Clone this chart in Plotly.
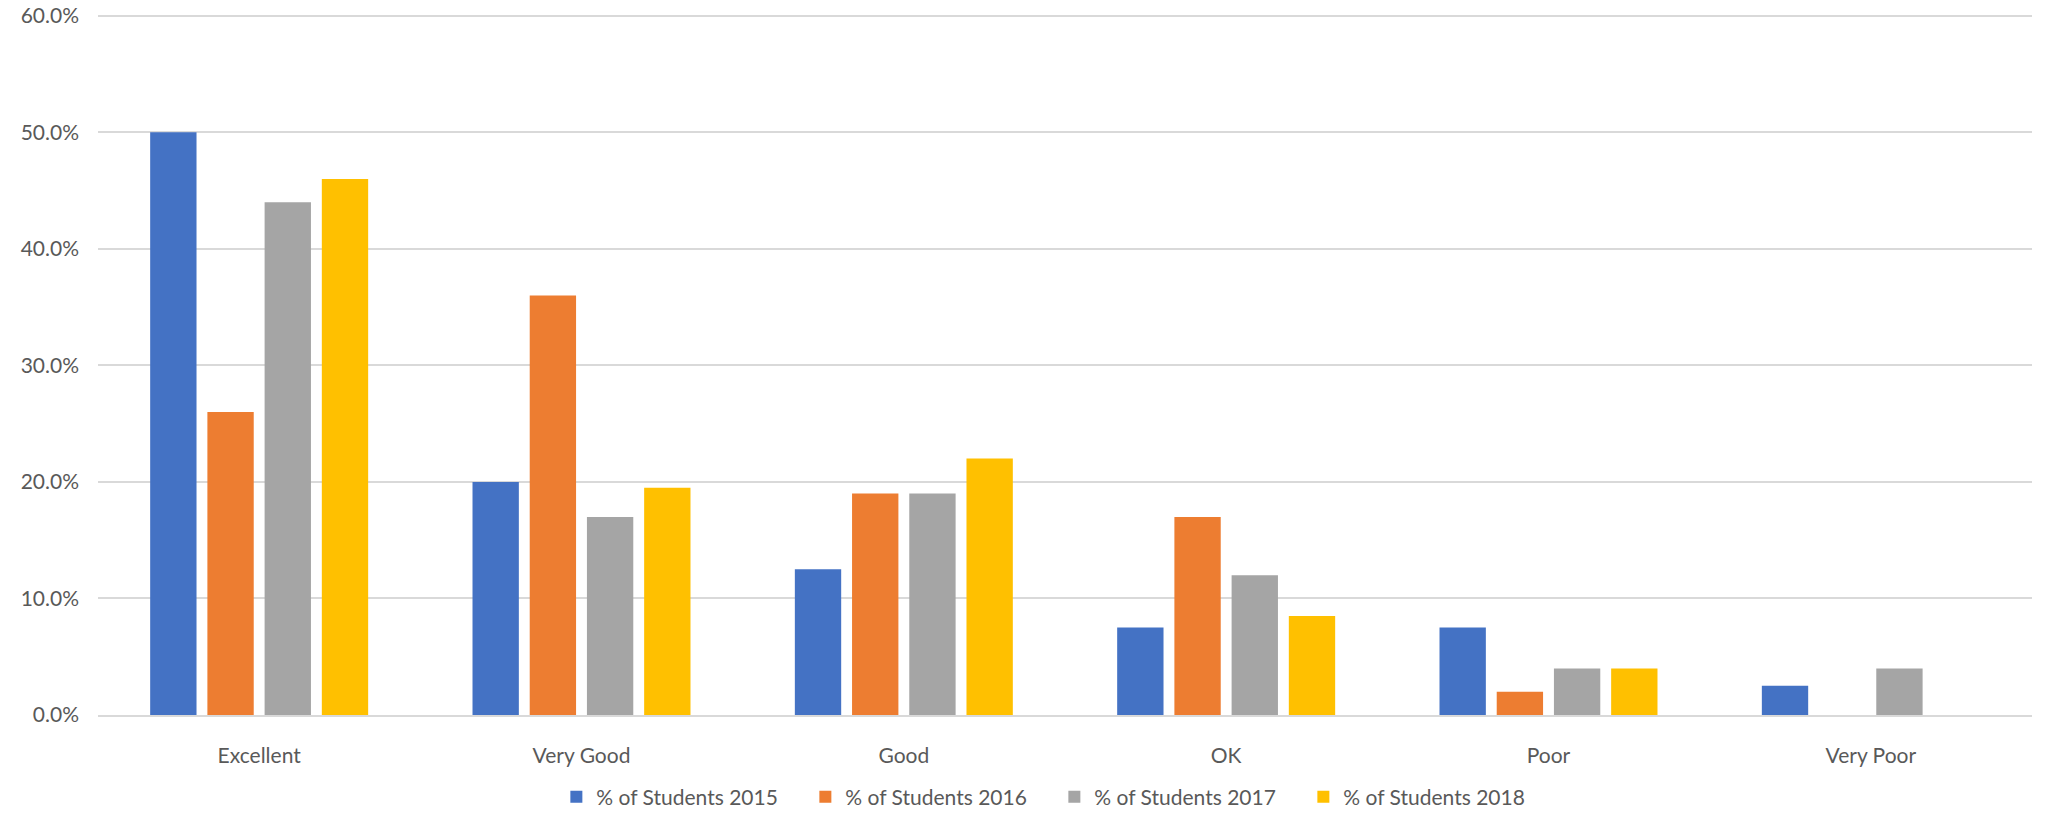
import plotly.graph_objects as go

categories = ["Excellent", "Very Good", "Good", "OK", "Poor", "Very Poor"]
series_names = ["% of Students 2015", "% of Students 2016", "% of Students 2017", "% of Students 2018"]
s2015 = [50.0, 20.0, 12.5, 7.5, 7.5, 2.5]
s2016 = [26.0, 36.0, 19.0, 17.0, 2.0, 0.0]
s2017 = [44.0, 17.0, 19.0, 12.0, 4.0, 4.0]
s2018 = [46.0, 19.5, 22.0, 8.5, 4.0, 0.0]
colors = ["#4472C4", "#ED7D31", "#A5A5A5", "#FFC000"]

fig = go.Figure()
for name, vals, col in zip(series_names, [s2015, s2016, s2017, s2018], colors):
    fig.add_trace(go.Bar(x=categories, y=[v / 100 for v in vals], name=name,
                         marker=dict(color=col, line=dict(width=0))))

font_family = "Lato, 'Open Sans', sans-serif"
fs = 21
fig.update_layout(
    width=2054, height=814,
    margin=dict(l=98, r=22, t=14, b=99, autoexpand=False),
    paper_bgcolor="white", plot_bgcolor="white",
    barmode="group", bargap=0.29, bargroupgap=0.19,
    font=dict(family=font_family, size=fs, color="#595959"),
    legend=dict(orientation="h", x=0.4945, xanchor="center", y=-0.117, yanchor="middle",
                font=dict(size=fs, color="#595959"), entrywidth=204, entrywidthmode="pixels",
                itemwidth=30),
    xaxis=dict(showgrid=False, showline=True, linecolor="#D9D9D9", linewidth=1.5,
               ticks="", ticklabelstandoff=21, tickfont=dict(size=fs, color="#595959")),
    yaxis=dict(range=[0, 0.6015], dtick=0.1, tickformat=".1%", showgrid=True,
               gridcolor="#D9D9D9", gridwidth=1.5, zeroline=False, showline=False,
               ticks="", ticklabelstandoff=18, tickfont=dict(size=fs, color="#595959")),
)

fig.write_html("out.html")
